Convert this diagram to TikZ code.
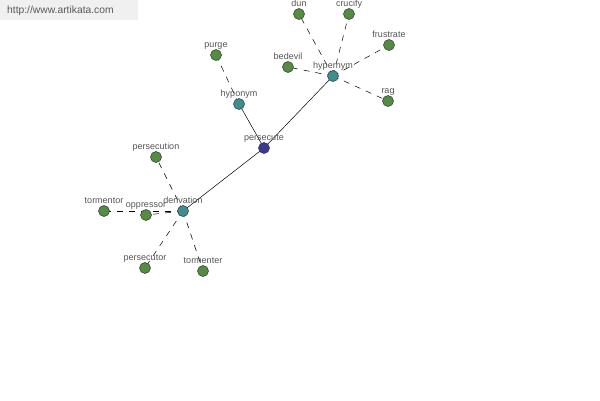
\documentclass[tikz,border=0pt]{standalone}
\usepackage{fontspec}
\setmainfont{Liberation Sans}
\definecolor{leafc}{RGB}{84,140,66}
\definecolor{hubc}{RGB}{62,142,145}
\definecolor{rootc}{RGB}{55,58,150}
\definecolor{labc}{RGB}{85,85,85}
\tikzset{
  dot/.style={circle,draw=black!80,line width=0.5pt,minimum size=11pt,inner sep=0pt},
  leaf/.style={dot,fill=leafc},
  hub/.style={dot,fill=hubc},
  root/.style={dot,fill=rootc},
  lab/.style={font=\fontsize{9}{10}\selectfont,text=labc,inner sep=0pt,anchor=base},
  solidedge/.style={line width=0.5pt,black},
  dashedge/.style={line width=0.5pt,black,dash pattern=on 6pt off 6pt},
}
\begin{document}
\begin{tikzpicture}[x=1pt,y=-1pt]
\useasboundingbox (0,0) rectangle (600,400);
\fill[white] (0,0) rectangle (600,400);
\fill[black!6] (0,0) rectangle (138,20);
\node[font=\fontsize{10.3}{11}\selectfont,text=black!65,anchor=west,inner sep=0pt] (wm) at (7,11) {http://www.artikata.com};
% nodes positions
\coordinate (persecute) at (264,148);
\coordinate (hyponym) at (239,104);
\coordinate (hypernym) at (333,76);
\coordinate (derivation) at (183,211);
\coordinate (purge) at (216,55);
\coordinate (dun) at (299,14);
\coordinate (crucify) at (349,14);
\coordinate (frustrate) at (389,45);
\coordinate (bedevil) at (288,67);
\coordinate (rag) at (388,101);
\coordinate (persecution) at (156,157);
\coordinate (tormentor) at (104,211);
\coordinate (oppressor) at (146,215);
\coordinate (persecutor) at (145,268);
\coordinate (tormenter) at (203,271);
% edges
\draw[solidedge] (persecute) -- (hyponym);
\draw[solidedge] (persecute) -- (hypernym);
\draw[solidedge] (persecute) -- (derivation);
\foreach \n in {purge}{\draw[dashedge] (hyponym) -- (\n);}
\foreach \n in {dun,crucify,frustrate,bedevil,rag}{\draw[dashedge] (hypernym) -- (\n);}
\foreach \n in {persecution,tormentor,oppressor,persecutor,tormenter}{\draw[dashedge] (derivation) -- (\n);}
% dots
\node[root] (n-persecute) at (persecute) {};
\foreach \n in {hyponym,hypernym,derivation}{\node[hub] (n-\n) at (\n) {};}
\foreach \n in {purge,dun,crucify,frustrate,bedevil,rag,persecution,tormentor,oppressor,persecutor,tormenter}{\node[leaf] (n-\n) at (\n) {};}
% labels
\foreach \n in {persecute,hyponym,hypernym,derivation,purge,dun,crucify,frustrate,bedevil,rag,persecution,tormentor,oppressor,persecutor,tormenter}{
  \node[lab] (l-\n) at ([yshift=8pt]\n) {\n};
}
\end{tikzpicture}
\end{document}
